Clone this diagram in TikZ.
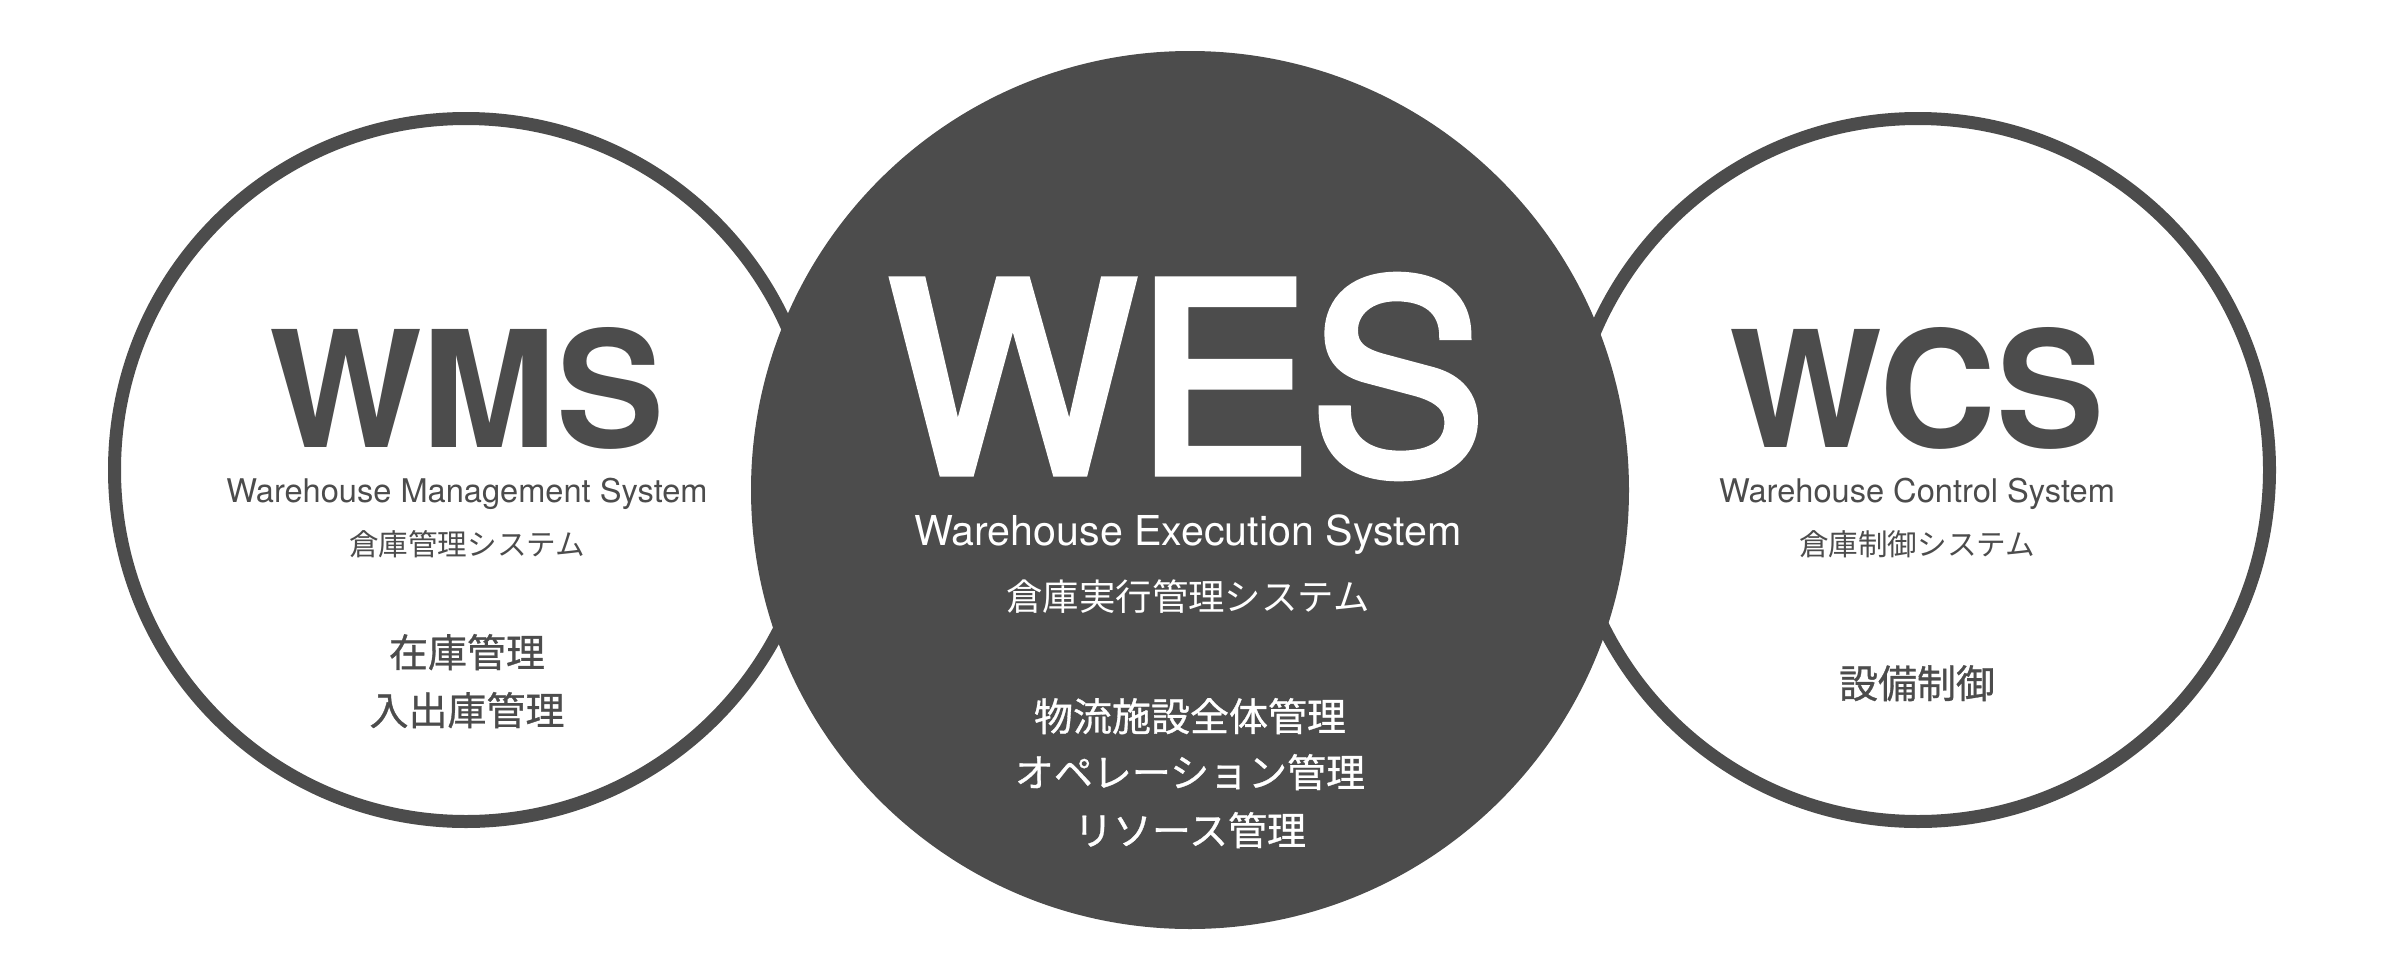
\documentclass[tikz,border=0pt]{standalone}
\usepackage{fontspec}
\setmainfont{TeX Gyre Heros}
\newfontfamily\coreabbrfont[FakeBold=3.5]{TeX Gyre Heros}
\newfontfamily\jpfont{Noto Sans CJK JP}
\newfontfamily\jptaskfont[FakeBold=0.8]{Noto Sans CJK JP}
\definecolor{ink}{HTML}{4C4C4C}

\begin{document}
\begin{tikzpicture}[x=0.5pt,y=-0.5pt,inner sep=0pt,outer sep=0pt]
        \tikzstyle{ring}=[circle,draw=ink,line width=6.5pt,fill=white,minimum size=351.5pt]
        \tikzstyle{core}=[circle,fill=ink,minimum size=439pt]
        \tikzstyle{abbr}=[anchor=base,text=ink,font=\bfseries\fontsize{81}{81}\selectfont]
        \tikzstyle{enname}=[anchor=base,text=ink,font=\fontsize{16.3}{16.3}\selectfont]
        \tikzstyle{jpname}=[anchor=base,text=ink,font=\jpfont\fontsize{14.8}{14.8}\selectfont]
        \tikzstyle{task}=[anchor=base,text=ink,font=\jptaskfont\fontsize{19.5}{19.5}\selectfont]

        \fill[white] (0,0) rectangle (2400,980);
        \useasboundingbox (0,0) rectangle (2400,980);

        \node[ring] (wms) at (466,470) {};
        \node[ring] (wcs) at (1918,470) {};
        \node[core] (wes) at (1190,490) {};

        % WMS
        \node[abbr] (wms-t) at (467,447) {WMS};
        \node[enname] (wms-en) at (467,502) {Warehouse Management System};
        \node[jpname] (wms-jp) at (467,555) {倉庫管理システム};
        \node[task] (wms-a) at (467,667) {在庫管理};
        \node[task] (wms-b) at (467,725) {入出庫管理};

        % WES
        \node[abbr,text=white,font=\coreabbrfont\fontsize{131}{131}\selectfont] (wes-t) at (1187,472) {WES};
        \node[enname,text=white,font=\fontsize{20.6}{20.6}\selectfont] (wes-en) at (1188,545) {Warehouse Execution System};
        \node[jpname,text=white,font=\jpfont\fontsize{18.2}{18.2}\selectfont] (wes-jp) at (1188,610) {倉庫実行管理システム};
        \node[task,text=white] (wes-a) at (1190,731) {物流施設全体管理};
        \node[task,text=white] (wes-b) at (1190,787) {オペレーション管理};
        \node[task,text=white] (wes-c) at (1190,845) {リソース管理};

        % WCS
        \node[abbr] (wcs-t) at (1917,447) {WCS};
        \node[enname] (wcs-en) at (1917,502) {Warehouse Control System};
        \node[jpname] (wcs-jp) at (1917,555) {倉庫制御システム};
        \node[task] (wcs-a) at (1917,698) {設備制御};

\end{tikzpicture}
\end{document}
